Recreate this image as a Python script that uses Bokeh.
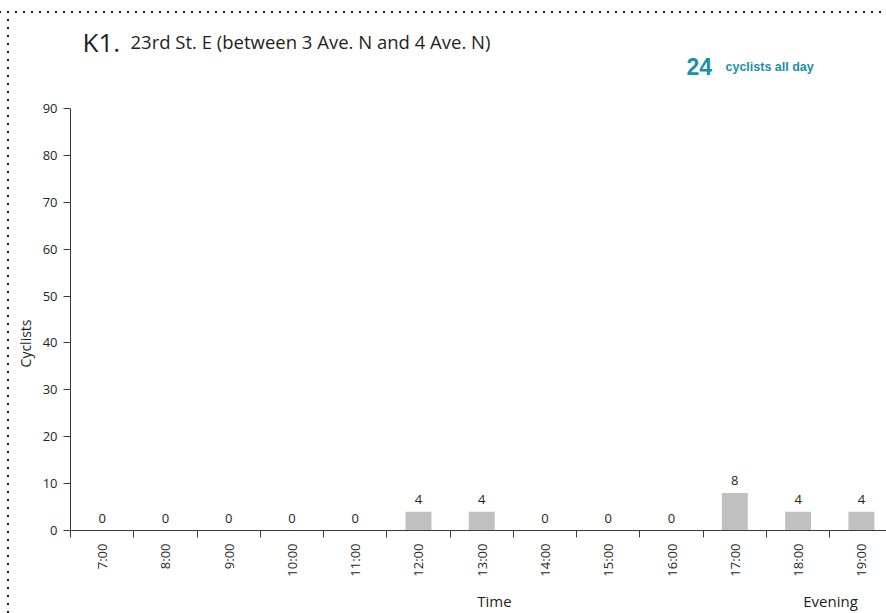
from bokeh.plotting import figure
from bokeh.models import Range1d, FixedTicker, Label, ColumnDataSource, LinearAxis
from bokeh.embed import file_html
from bokeh.resources import INLINE
from math import pi

# ---- data ----
hours = ["7:00", "8:00", "9:00", "10:00", "11:00", "12:00", "13:00",
         "14:00", "15:00", "16:00", "17:00", "18:00", "19:00"]
cyclists = [0, 0, 0, 0, 0, 4, 4, 0, 0, 0, 8, 4, 4]
y_ticks = [0, 10, 20, 30, 40, 50, 60, 70, 80, 90]
title_code = "K1."
title_text = "23rd St. E (between 3 Ave. N and 4 Ave. N)"
total_text = "24"
total_suffix = "cyclists all day"
y_title = "Cyclists"
x_title = "Time"
x_note = "Evening"

FONT = "Open Sans"
TXT = "#231f20"
AX = "#3a3a3a"
TEAL = "#1b90a8"

# ---- layout (page px) ----
W, H = 886, 613
FRAME_L, FRAME_B, Y90_PX = 70, 530, 108
px_per_unit = (FRAME_B - Y90_PX) / 90.0
y_end = FRAME_B / px_per_unit            # frame reaches top of canvas
cat_px = 63.27
x_end = -0.5 + (W - FRAME_L) / cat_px

xs = list(range(len(hours)))
src = ColumnDataSource(dict(x=xs, top=cyclists, lab=[str(v) for v in cyclists]))

dots = "radial-gradient(circle, #222 1.1px, rgba(0,0,0,0) 1.6px)"
p = figure(width=W, height=H, output_backend="svg", toolbar_location=None,
           x_range=Range1d(-0.5, x_end), y_range=Range1d(0, y_end),
           min_border_left=FRAME_L, min_border_right=0, min_border_top=0,
           min_border_bottom=H - FRAME_B,
           styles={"background-image": "linear-gradient(#fff, #fff), " + dots + ", " + dots,
                   "background-size": "16px 9px, 8px 8px, 8px 8px",
                   "background-repeat": "no-repeat, repeat-x, repeat-y",
                   "background-position": "0px 0px, 4px 8px, 4px 8px"})
p.border_fill_color = None
p.background_fill_color = None
p.outline_line_color = None
p.grid.visible = False

p.vbar(x="x", top="top", width=0.41, source=src, fill_color="#c0c0c0", line_color=None)
p.text(x="x", y="top", text="lab", source=src, text_align="center",
       text_baseline="alphabetic", y_offset=-12, text_font_size="13px",
       text_color=TXT, text_font={"value": FONT})

# x axis
xa = p.xaxis[0]
xa.ticker = FixedTicker(ticks=xs, minor_ticks=[i - 0.5 for i in range(len(hours) + 1)])
xa.major_label_overrides = {i: h for i, h in enumerate(hours)}
xa.major_label_orientation = pi / 2
xa.major_tick_line_color = None
xa.major_tick_out = 7
xa.major_tick_in = 0
xa.minor_tick_out = 7
xa.minor_tick_in = 0
xa.minor_tick_line_color = AX
xa.axis_line_color = AX
xa.major_label_standoff = 6
xa.major_label_text_font = FONT
xa.major_label_text_font_size = "13px"
xa.major_label_text_color = TXT

# second (label-only) axis below for "Time" / "Evening"
time_pos = (494 - FRAME_L) / cat_px - 0.5
even_pos = (830 - FRAME_L) / cat_px - 0.5
xb = LinearAxis(ticker=FixedTicker(ticks=[time_pos, even_pos], minor_ticks=[]),
                major_label_overrides={time_pos: x_title, even_pos: x_note})
xb.axis_line_color = None
xb.major_tick_line_color = None
xb.minor_tick_line_color = None
xb.major_tick_out = 0
xb.major_tick_in = 0
xb.major_label_standoff = 11
xb.major_label_orientation = "horizontal"
xb.major_label_text_font = FONT
xb.major_label_text_font_size = "15px"
xb.major_label_text_color = TXT
p.add_layout(xb, "below")

# y axis
ya = p.yaxis[0]
ya.ticker = FixedTicker(ticks=y_ticks, minor_ticks=[])
ya.bounds = (y_ticks[0], y_ticks[-1])
ya.major_tick_out = 7
ya.major_tick_in = 0
ya.major_tick_line_color = AX
ya.axis_line_color = AX
ya.major_label_standoff = 6
ya.major_label_text_font = FONT
ya.major_label_text_font_size = "13px"
ya.major_label_text_color = TXT

# y title as a label-only axis, centred on the 0..90 value span
y_mid = (y_ticks[0] + y_ticks[-1]) / 2
yb = LinearAxis(ticker=FixedTicker(ticks=[y_mid], minor_ticks=[]),
                major_label_overrides={y_mid: y_title})
yb.axis_line_color = None
yb.major_tick_line_color = None
yb.minor_tick_line_color = None
yb.major_tick_out = 0
yb.major_tick_in = 0
yb.major_label_standoff = 14
yb.major_label_orientation = pi / 2
yb.major_label_text_font = FONT
yb.major_label_text_font_size = "14px"
yb.major_label_text_color = TXT
p.add_layout(yb, "left")

# title texts: screen units measured from the frame's bottom-left corner
def lab(text, x, y, size, font=FONT, color=TXT, style="normal"):
    p.add_layout(Label(x=x - FRAME_L, y=FRAME_B - y, x_units="screen", y_units="screen",
                       text=text, text_font=font, text_font_size=size, text_color=color,
                       text_font_style=style, text_align="left",
                       text_baseline="alphabetic"))

lab(title_code, 82, 41, "26px")
lab(title_text, 130, 41, "18.5px")
lab(total_text, 686, 66, "23px", font="Liberation Sans", color=TEAL, style="bold")
lab(total_suffix, 725, 66, "12.5px", font="Liberation Sans", color=TEAL, style="bold")

open("out.html", "w").write(file_html(p, INLINE))
